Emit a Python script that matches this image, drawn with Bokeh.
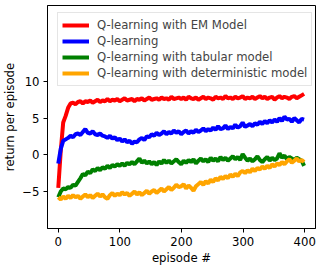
import numpy as np
from bokeh.plotting import figure
from bokeh.models import FixedTicker, Legend, LegendItem, Range1d
from bokeh.embed import file_html
from bokeh.resources import INLINE

labels = ["Q-learning with EM Model", "Q-learning", "Q-learning with tabular model",
          "Q-learning with deterministic model"]
colors = ["#ff0000", "#0000ff", "#008000", "#ffa500"]

em_model = [-4.5, 0.5, 4.4, 5.3, 6.4, 7.0, 7.1, 6.9, 7.2, 7.3, 7.0, 7.3, 7.2, 7.4, 7.1, 7.3, 7.5, 7.2, 7.4, 7.3,
            7.6, 7.3, 7.5, 7.4, 7.6, 7.3, 7.5, 7.7, 7.4, 7.5, 7.6, 7.3, 7.6, 7.5, 7.7, 7.4, 7.6, 7.8, 7.5, 7.6,
            7.7, 7.5, 7.8, 7.6, 7.7, 7.5, 7.9, 7.6, 7.7, 7.8,
            7.6, 7.8, 7.5, 7.9, 7.7, 7.6, 7.8, 7.5, 7.7, 7.9, 7.6, 7.8, 7.7, 7.5, 7.9, 7.7, 7.8, 7.6, 8.0, 7.7,
            7.8, 7.6, 7.9, 7.7, 7.8, 8.0, 7.6, 7.8, 7.7, 7.9, 7.6, 7.8, 8.0, 7.7, 7.9, 7.6, 7.8, 7.9, 7.5, 7.8,
            8.0, 7.7, 7.9, 7.8, 7.6, 7.9, 8.0, 7.7, 7.9, 8.1, 8.3]
q_learning = [-1.2, 0.8, 1.9, 2.1, 2.3, 2.6, 2.4, 2.8, 2.9, 2.7, 3.1, 3.5, 3.0, 2.9, 3.2, 2.8, 2.7, 2.9, 2.6, 2.5,
              2.3, 2.6, 2.2, 2.4, 2.0, 2.2, 1.8, 2.1, 1.7, 1.9, 1.5, 1.8, 1.7, 2.1, 2.3, 2.0, 2.5, 2.4, 2.8, 2.6,
              3.0, 2.7, 2.9, 3.2, 2.8, 3.1, 2.9, 3.3, 3.0, 3.2, 2.8, 3.1, 3.3, 2.9, 3.2, 3.0, 3.4, 3.1, 3.3, 3.6,
              3.2, 3.5, 3.3, 3.7, 3.4, 3.9, 3.5, 3.6, 4.0, 3.5, 3.8, 3.6, 4.1, 3.7, 3.9, 4.4, 3.8, 4.0, 4.2, 3.9,
              4.3, 4.1, 4.5, 4.2, 4.6, 4.3, 4.7, 4.4, 4.8, 4.5, 5.0, 4.6, 5.2, 4.8, 4.9, 4.5, 5.0, 4.7, 4.4, 4.9,
              4.8]
tabular = [-5.8, -5.0, -4.6, -4.7, -4.4, -4.5, -4.1, -4.2, -3.7, -3.2, -2.6, -2.8, -2.3, -2.5, -2.0, -2.2, -1.8,
           -2.1, -1.7, -1.9, -1.5, -1.8, -1.4, -1.6, -1.3, -1.5, -1.2, -1.5, -1.1, -1.3, -1.0, -1.3, -0.9, -0.5,
           -1.1, -0.8, -1.2, -0.9, -1.3, -1.0, -1.4, -0.9, -1.2, -0.7, -1.1, -0.8, -1.2, -0.9, -0.6, -1.0, -1.3,
           -0.8, -1.1, -0.7, -1.0, -0.6, -1.2, -0.8, -0.5, -0.9, -0.6, -1.0, -0.4, -0.8, -0.5, -0.9, -0.3, -0.7,
           -0.4, -0.8, -0.5, -0.2, -0.6, -0.3, -0.7, 0.1, -0.4, -0.8, -0.5, -0.9, -0.6, -0.2, -0.7, -1.0, -0.6,
           -0.3, -0.8, -0.4, -0.7, -0.5, 0.2, -0.4, -0.1, -0.6, -0.3, -0.5, -0.7, -0.4, -0.6, -0.8, -1.5]
deterministic = [-5.8, -6.1, -5.7, -6.0, -5.6, -5.9, -5.5, -5.8, -5.6, -6.0, -5.7, -5.4, -5.8, -5.5, -5.9, -5.6,
                 -5.3, -5.7, -5.4, -5.8, -6.0, -5.5, -5.2, -5.6, -5.3, -5.5, -5.1, -5.4, -5.2, -5.6, -5.3, -5.0,
                 -5.4, -5.1, -5.5, -5.2, -4.9, -5.3, -5.0, -4.8, -5.2, -4.9, -4.6, -5.0, -4.7, -4.4, -4.8, -4.5,
                 -4.1, -4.4, -4.3, -4.0, -4.6, -4.2, -4.5, -4.9, -4.3, -4.0, -3.7, -4.1, -3.6, -3.9, -3.4, -3.7,
                 -3.2, -3.5, -3.0, -3.3, -2.9, -3.2, -2.7, -3.0, -2.6, -2.9, -2.4, -2.2, -2.5, -2.1, -2.4, -1.9,
                 -2.2, -1.8, -2.0, -1.6, -1.9, -1.5, -1.8, -1.3, -1.6, -1.2, -1.4, -1.0, -1.3, -0.9, -0.6, -1.1,
                 -0.8, -0.5, -0.9, -0.7, -1.0]
series = [em_model, q_learning, tabular, deterministic]

y_ticks = [-5, 0, 5, 10]
x_ticks = [0, 100, 200, 300, 400]
last_episode = 399

FONT = "DejaVu Sans"
FS = "11.7px"

p = figure(width=319, height=268, output_backend="svg", toolbar_location=None,
           x_range=Range1d(-17.5, 417.5), y_range=Range1d(-10.05, 20.35),
           min_border_left=42, min_border_right=4, min_border_top=5, min_border_bottom=40)
p.background_fill_color = "white"
p.border_fill_color = "white"
p.outline_line_color = "black"
p.outline_line_width = 1
p.xgrid.visible = False
p.ygrid.visible = False

renderers = []
for vals, col in zip(series, colors):
    xs = np.linspace(0, last_episode, len(vals))
    r = p.line(xs, vals, line_color=col, line_width=4)
    renderers.append(r)

for ax in (p.xaxis[0], p.yaxis[0]):
    ax.axis_line_color = "black"
    ax.major_tick_line_color = "black"
    ax.major_tick_out = 4
    ax.major_tick_in = 0
    ax.minor_tick_line_color = None
    ax.major_label_text_font = FONT
    ax.major_label_text_font_size = FS
    ax.major_label_text_color = "black"
    ax.axis_label_text_font = FONT
    ax.axis_label_text_font_size = FS
    ax.axis_label_text_font_style = "normal"
    ax.axis_label_text_color = "black"

p.xaxis.ticker = FixedTicker(ticks=x_ticks)
p.yaxis.ticker = FixedTicker(ticks=y_ticks)
p.yaxis.major_label_overrides = {t: str(t).replace("-", "\u2212") for t in y_ticks}
p.xaxis.axis_label = "episode #"
p.yaxis.axis_label = "return per episode"
p.xaxis.major_label_standoff = 4
p.yaxis.major_label_standoff = 4
p.xaxis.axis_label_standoff = 2
p.yaxis.axis_label_standoff = 2

legend = Legend(items=[LegendItem(label=l, renderers=[r]) for l, r in zip(labels, renderers)],
                location=(10, 142))
legend.label_text_font = FONT
legend.label_text_font_size = FS
legend.label_standoff = 8
legend.glyph_width = 27
legend.glyph_height = 16
legend.label_height = 16
legend.spacing = 0
legend.padding = 4
legend.margin = 0
legend.border_line_color = "#cccccc"
legend.border_line_width = 1
legend.background_fill_alpha = 0.8
p.add_layout(legend)

open("out.html", "w").write(file_html(p, INLINE))
